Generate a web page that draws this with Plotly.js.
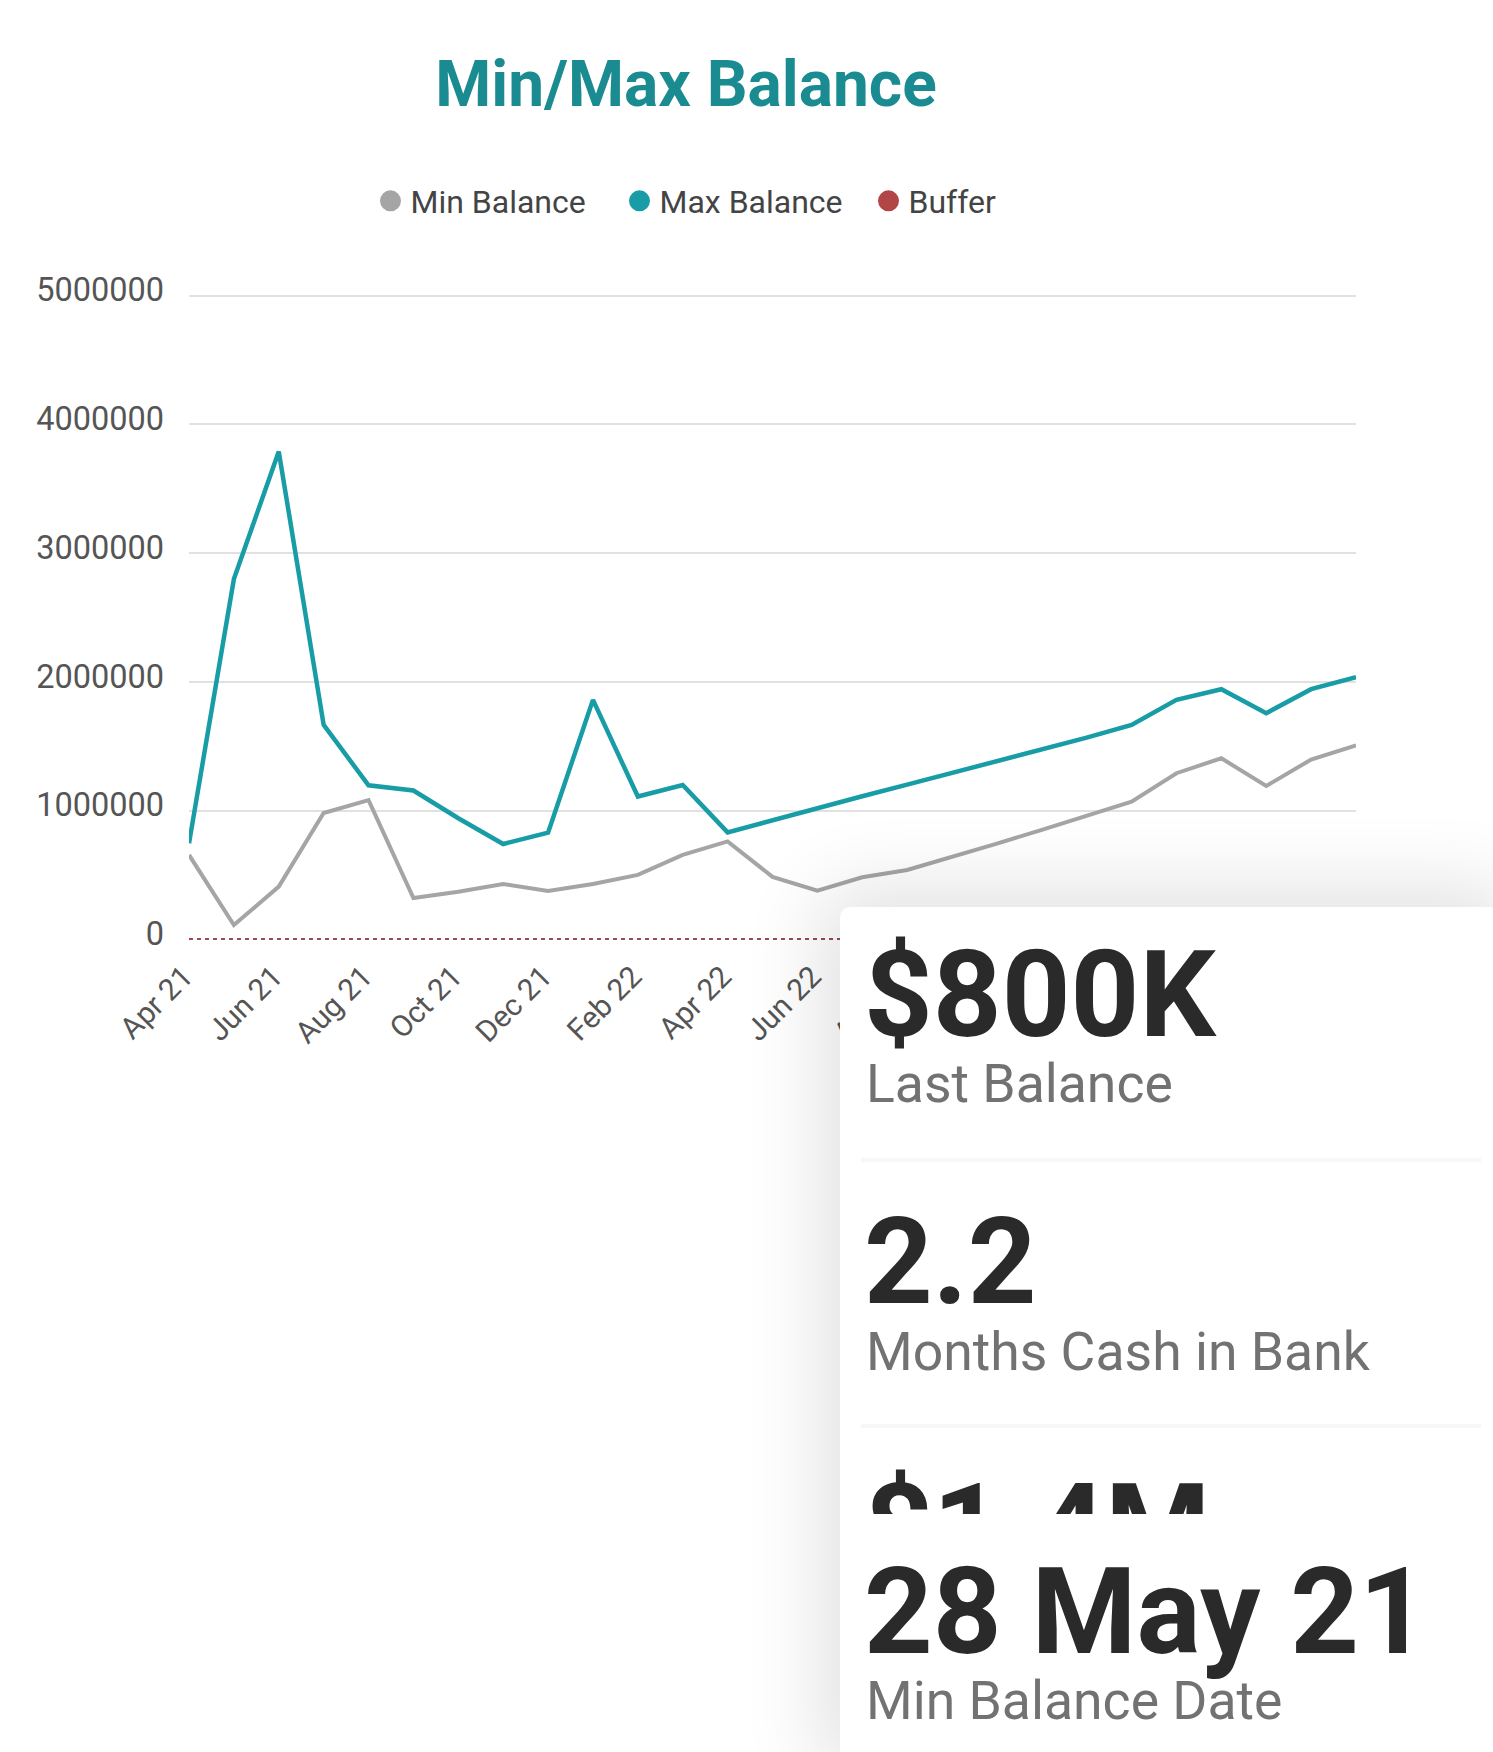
<!DOCTYPE html>
<html>
<head>
<meta charset="utf-8">
<script src="https://cdn.plot.ly/plotly-3.0.1.min.js"></script>
<style>
  html, body { margin: 0; padding: 0; background: #ffffff; overflow: hidden; }
  #wrap { position: relative; width: 1493px; height: 1752px; font-family: Roboto, "Open Sans", sans-serif; }
  #chart { position: absolute; left: 0; top: 0; width: 1493px; height: 1752px; }
  #card { position: absolute; left: 840px; top: 907px; width: 653px; height: 845px; background: #ffffff;
          border-top-left-radius: 10px; box-shadow: 0 0 80px 18px rgba(0,0,0,0.12); overflow: hidden; }
  .big { position: absolute; left: 24px; font-weight: 700; font-size: 120px; line-height: 1; color: #2a2a2a; white-space: nowrap; }
  .sub { position: absolute; left: 26px; font-weight: 400; font-size: 53.5px; line-height: 1; color: #727272; white-space: nowrap; }
  .sep { position: absolute; left: 21px; right: 12px; height: 4px; background: #f7f7f7; }
  .clip { position: absolute; left: 0; right: 0; overflow: hidden; }
</style>
</head>
<body>
<div id="wrap">
  <div id="chart"></div>
  <div id="card">
    <div class="big" style="top:28px;">$800K</div>
    <div class="sub" style="top:150px;">Last Balance</div>
    <div class="sep" style="top:251px;"></div>
    <div class="big" style="top:295px;">2.2</div>
    <div class="sub" style="top:418px;">Months Cash in Bank</div>
    <div class="sep" style="top:517px;"></div>
    <div class="clip" style="top:540px; height:67px;">
      <div class="big" style="top:21px;">$1.4M</div>
    </div>
    <div class="big" style="top:645px;">28 May 21</div>
    <div class="sub" style="top:767px;">Min Balance Date</div>
  </div>
</div>
<script>
const months = ["Apr 21","May 21","Jun 21","Jul 21","Aug 21","Sep 21","Oct 21","Nov 21","Dec 21",
                "Jan 22","Feb 22","Mar 22","Apr 22","May 22","Jun 22","Jul 22","Aug 22","Sep 22",
                "Oct 22","Nov 22","Dec 22","Jan 23","Feb 23","Mar 23","Apr 23","May 23","Jun 23"];

const minBalance = [660000, 116000, 414000, 985000, 1085000, 326000, 375000, 435000, 380000,
                    435000, 505000, 660000, 765000, 490000, 383000, 487000, 543000, 642000,
                    748000, 854000, 960000, 1074000, 1294000, 1410000, 1195000, 1400000, 1510000];

const maxBalance = [750000, 2800000, 3790000, 1670000, 1200000, 1160000, 945000, 745000, 833000,
                    1863000, 1113000, 1203000, 835000, 930000, 1025000, 1115000, 1205000, 1295000,
                    1385000, 1475000, 1570000, 1669000, 1863000, 1946000, 1760000, 1946000, 2040000];

const buffer = [0,0,0,0,0,0,0,0,0,0,0,0,0,0,0,0,0,0,0,0,0,0,0,0,0,0,0];

const tickMonths = ["Apr 21","Jun 21","Aug 21","Oct 21","Dec 21","Feb 22","Apr 22","Jun 22",
                    "Aug 22","Oct 22","Dec 22","Feb 23","Apr 23","Jun 23"];

const seriesNames = ["Min Balance", "Max Balance", "Buffer"];
const colMin = "#a5a5a5", colMax = "#189ca6", colBuf = "#b24545";

const traces = [
  { x: months, y: minBalance, type: "scatter", mode: "lines", name: seriesNames[0], legendgroup: "min",
    showlegend: false, line: { color: colMin, width: 4 } },
  { x: months, y: maxBalance, type: "scatter", mode: "lines", name: seriesNames[1], legendgroup: "max",
    showlegend: false, line: { color: colMax, width: 4.5 } },
  { x: months, y: buffer, type: "scatter", mode: "lines", name: seriesNames[2], legendgroup: "buf",
    showlegend: false, line: { color: "#9e4652", width: 4, dash: "dot" } },
  // legend entries (circle symbols)
  { x: [null], y: [null], type: "scatter", mode: "markers", name: seriesNames[0], legendgroup: "min",
    marker: { color: colMin, size: 16, line: { color: colMin, width: 5 } } },
  { x: [null], y: [null], type: "scatter", mode: "markers", name: seriesNames[1], legendgroup: "max",
    marker: { color: colMax, size: 16, line: { color: colMax, width: 5 } } },
  { x: [null], y: [null], type: "scatter", mode: "markers", name: seriesNames[2], legendgroup: "buf",
    marker: { color: colBuf, size: 16, line: { color: colBuf, width: 5 } } }
];

const layout = {
  width: 1493, height: 1752,
  margin: { l: 189, r: 137, t: 293, b: 812, pad: 0 },
  paper_bgcolor: "#ffffff", plot_bgcolor: "#ffffff",
  font: { family: "Roboto, 'Open Sans', sans-serif", color: "#555555" },
  title: { text: "Min/Max Balance", xref: "container", x: 686/1493, xanchor: "center",
           yref: "container", y: 1 - 84/1752, yanchor: "middle",
           font: { size: 64, color: "#1a8c91", family: "Roboto, sans-serif", weight: 700 } },
  showlegend: true,
  legend: { orientation: "h", xref: "container", x: 744/1493, xanchor: "center",
            yref: "container", y: 1 - 201/1752, yanchor: "middle",
            entrywidth: 204, entrywidthmode: "pixels",
            font: { size: 32, color: "#444444" }, traceorder: "normal" },
  xaxis: { type: "category", categoryorder: "array", categoryarray: months,
           range: [0, months.length - 1], tickmode: "array", tickvals: tickMonths, ticktext: tickMonths,
           tickangle: -45, tickfont: { size: 30, color: "#555555" }, showgrid: false, zeroline: false,
           showline: false, ticks: "", ticklabelstandoff: 12, ticklabelshift: -5, fixedrange: true },
  yaxis: { range: [0, 5020000], tickmode: "linear", tick0: 0, dtick: 1000000, tickformat: "d",
           tickfont: { size: 32.5, color: "#555555" }, showgrid: true, gridcolor: "#e1e1e1", gridwidth: 2,
           zeroline: false, showline: false, ticks: "", ticklabelstandoff: 24, ticklabelshift: -6,
           fixedrange: true }
};

Plotly.newPlot("chart", traces, layout, { displayModeBar: false, staticPlot: true });
</script>
</body>
</html>
